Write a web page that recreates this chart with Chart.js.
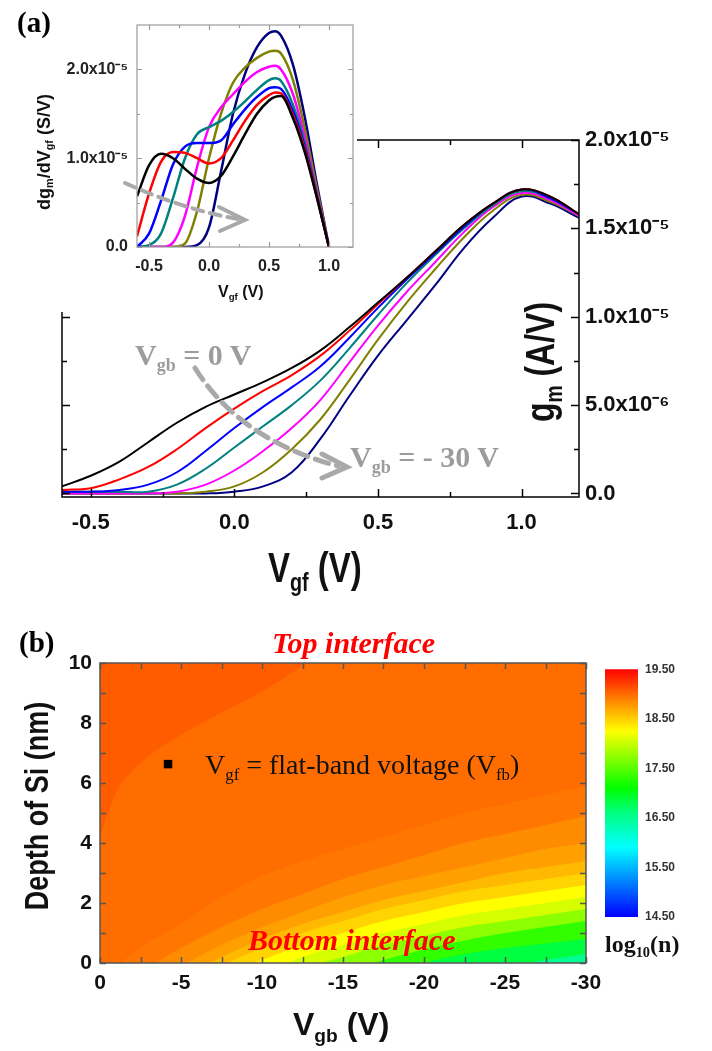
<!DOCTYPE html>
<html>
<head>
<meta charset="utf-8">
<script src="https://cdn.jsdelivr.net/npm/chart.js@4.4.0/dist/chart.umd.min.js"></script>
<style>
body { margin: 0; background: #fff; }
#page { position: relative; width: 712px; height: 1051px; overflow: hidden; background: #fff; }
canvas { position: absolute; }
.t { position: absolute; white-space: nowrap; }
.sans { font-family: "Liberation Sans", Arial, sans-serif; font-weight: bold; color: #111; }
.serif { font-family: "Liberation Serif", "Times New Roman", serif; }
.t sub { font-size: 0.6em; vertical-align: -0.35em; line-height: 0; }
.grey { color: #9c9c9c; font-weight: bold; }
.red { color: #ff0000; font-weight: bold; font-style: italic; }
</style>
</head>
<body>
<div id="page">
  <canvas id="mainChart" width="712" height="600" style="left:0;top:0"></canvas>
  <canvas id="insetChart" width="357" height="312" style="left:0;top:0"></canvas>
  <canvas id="heatChart" width="712" height="451" style="left:0;top:600px"></canvas>
  <canvas id="barChart" width="117" height="280" style="left:595px;top:655px"></canvas>

  <svg width="712" height="1051" style="position:absolute;left:0;top:0;pointer-events:none">
    <g fill="none" stroke="#a9a9a9" stroke-linecap="round">
      <path d="M125,183 Q185,210 238,219" stroke-width="4" stroke-dasharray="11 7"/>
      <path d="M219,207 L245,220 L220,231" stroke-width="4"/>
      <path d="M195,368 Q240,440 338,466" stroke-width="5" stroke-dasharray="14 8"/>
      <path d="M322,454 L347,467 L322,478" stroke-width="5"/>
    </g>
  </svg>

  <div class="t serif" style="left:17px;top:8px;font-size:29px;line-height:29px;font-weight:bold">(a)</div>
  <div class="t sans" style="left:44px;top:152px;font-size:18px;transform:translate(-50%,-50%) rotate(-90deg)">dg<sub>m</sub>/dV<sub>gf</sub> (S/V)</div>
  <div class="t sans" style="left:218px;top:284px;font-size:16px;line-height:16px">V<sub>gf</sub> (V)</div>
  <div class="t sans" style="left:268px;top:546px;font-size:33px;line-height:33px;transform:scaleY(1.3);transform-origin:0 0">V<sub>gf</sub> (V)</div>
  <div class="t sans" style="left:540px;top:362px;font-size:32px;line-height:32px;transform:translate(-50%,-50%) rotate(-90deg) scaleY(1.25)">g<sub>m</sub> (A/V)</div>
  <div class="t serif grey" style="left:135px;top:340px;font-size:30px;line-height:30px">V<sub>gb</sub> = 0 V</div>
  <div class="t serif grey" style="left:350px;top:442px;font-size:30px;line-height:30px">V<sub>gb</sub> = - 30 V</div>

  <div class="t serif" style="left:19px;top:628px;font-size:29px;line-height:29px;font-weight:bold">(b)</div>
  <div class="t serif red" style="left:272px;top:628px;font-size:30px;line-height:30px">Top interface</div>
  <div class="t serif red" style="left:248px;top:925px;font-size:30px;line-height:30px">Bottom interface</div>
  <div class="t serif" style="left:205px;top:751px;font-size:28px;line-height:28px;color:#111">V<sub>gf</sub> = flat-band voltage (V<sub>fb</sub>)</div>
  <div class="t sans" style="left:38px;top:806px;font-size:27px;line-height:27px;transform:translate(-50%,-50%) rotate(-90deg) scaleY(1.2)">Depth of Si (nm)</div>
  <div class="t sans" style="left:293px;top:1008px;font-size:32px;line-height:32px">V<sub>gb</sub> (V)</div>
  <div class="t serif" style="left:605px;top:932px;font-size:24px;line-height:24px;font-weight:bold;color:#111">log<sub>10</sub>(n)</div>
</div>

<script>
// ---- (a) main: g_m vs V_gf, values in units of 1e-5 A/V ----
const vgfMain = [-0.6, -0.5, -0.4, -0.3, -0.2, -0.1, 0, 0.1, 0.2, 0.3, 0.4, 0.5, 0.6, 0.7, 0.8, 0.9, 1.0, 1.1, 1.2];
const gmVgb0  = [0.04, 0.10, 0.18, 0.29, 0.40, 0.49, 0.56, 0.63, 0.71, 0.81, 0.94, 1.08, 1.22, 1.37, 1.52, 1.64, 1.72, 1.68, 1.58];
const gmVgb5  = [0.02, 0.03, 0.08, 0.15, 0.25, 0.37, 0.48, 0.58, 0.67, 0.78, 0.92, 1.07, 1.22, 1.37, 1.52, 1.64, 1.72, 1.68, 1.58];
const gmVgb10 = [0.01, 0.01, 0.02, 0.05, 0.12, 0.24, 0.37, 0.49, 0.60, 0.72, 0.88, 1.05, 1.21, 1.36, 1.51, 1.64, 1.72, 1.67, 1.58];
const gmVgb15 = [0.01, 0.01, 0.01, 0.01, 0.05, 0.14, 0.26, 0.38, 0.50, 0.64, 0.82, 1.01, 1.19, 1.35, 1.50, 1.63, 1.71, 1.67, 1.58];
const gmVgb20 = [0, 0, 0, 0, 0.01, 0.05, 0.13, 0.24, 0.37, 0.53, 0.74, 0.95, 1.14, 1.31, 1.48, 1.62, 1.70, 1.66, 1.57];
const gmVgb25 = [0, 0, 0, 0, 0, 0.01, 0.04, 0.12, 0.25, 0.42, 0.64, 0.87, 1.08, 1.27, 1.45, 1.60, 1.69, 1.65, 1.57];
const gmVgb30 = [0, 0, 0, 0, 0, 0, 0.01, 0.04, 0.12, 0.31, 0.55, 0.78, 0.98, 1.18, 1.39, 1.56, 1.68, 1.64, 1.56];

// ---- (a) inset: dgm/dVgf, units of 1e-5 S/V ----
const vgfInset = [-0.6, -0.5, -0.4, -0.3, -0.2, -0.1, 0, 0.1, 0.2, 0.3, 0.4, 0.5, 0.55, 0.6, 0.7, 0.8, 0.9, 1.0];
const dgVgb0  = [0.57, 0.92, 1.05, 1.00, 0.88, 0.77, 0.72, 0.80, 1.02, 1.27, 1.50, 1.65, 1.69, 1.70, 1.45, 1.06, 0.55, 0];
const dgVgb5  = [0.12, 0.60, 0.96, 1.07, 1.06, 1.00, 0.94, 1.00, 1.20, 1.42, 1.60, 1.71, 1.74, 1.73, 1.48, 1.09, 0.56, 0];
const dgVgb10 = [0, 0.15, 0.52, 0.93, 1.13, 1.17, 1.17, 1.20, 1.38, 1.55, 1.69, 1.79, 1.80, 1.78, 1.53, 1.12, 0.57, 0];
const dgVgb15 = [0, 0.02, 0.15, 0.55, 1.00, 1.27, 1.35, 1.42, 1.52, 1.64, 1.77, 1.88, 1.90, 1.87, 1.60, 1.16, 0.58, 0];
const dgVgb20 = [0, 0, 0, 0.05, 0.35, 0.90, 1.35, 1.57, 1.72, 1.86, 1.97, 2.03, 2.04, 2.00, 1.72, 1.22, 0.60, 0];
const dgVgb25 = [0, 0, 0, 0, 0.04, 0.40, 1.00, 1.50, 1.85, 2.02, 2.13, 2.20, 2.21, 2.18, 1.88, 1.32, 0.65, 0];
const dgVgb30 = [0, 0, 0, 0, 0, 0.02, 0.22, 0.85, 1.50, 1.95, 2.25, 2.41, 2.43, 2.38, 2.05, 1.45, 0.70, 0];

const curveLabels = ['Vgb = 0 V', 'Vgb = -5 V', 'Vgb = -10 V', 'Vgb = -15 V', 'Vgb = -20 V', 'Vgb = -25 V', 'Vgb = -30 V'];
const curveColors = ['#000000', '#ff0000', '#0000ff', '#008080', '#ff00ff', '#808000', '#000080'];

const mainXTicks = [-0.5, -0.25, 0, 0.25, 0.5, 0.75, 1.0];
const mainYTicks = [0, 0.25, 0.5, 0.75, 1.0, 1.25, 1.5, 1.75, 2.0];
const insetXTicks = [-0.5, -0.25, 0, 0.25, 0.5, 0.75, 1.0];
const insetYTicks = [0, 0.5, 1.0, 1.5, 2.0];

// ---- (b) electron density contour bands, log10(n) ----
const vgb = [0, -2.5, -5, -7.5, -10, -12.5, -15, -17.5, -20, -22.5, -25, -27.5, -30];
// upper-left region (highest density) lies above this line
const vgbTop = [0, -0.5, -1, -2, -3, -5, -7.5, -10, -12.5, -14];
const depthTop = [4.2, 5.0, 5.7, 6.4, 6.9, 7.6, 8.35, 9.05, 9.9, 10.4];
const levelTop = 19.07;
const levelBase = 18.99;
// each band lies below its boundary depth (nm)
const bandLevels = [18.94, 18.84, 18.74, 18.61, 18.47, 18.25, 18.06, 17.73, 17.32, 16.85, 16.51];
const bandDepths = [
  [-0.6, 0.5, 1.3, 2.2, 2.9, 3.4, 3.8, 4.2, 4.6, 5.0, 5.3, 5.6, 5.9],
  [-1.2, -0.3, 0.5, 1.2, 1.8, 2.3, 2.8, 3.2, 3.6, 4.0, 4.3, 4.6, 4.9],
  [-1.6, -0.8, -0.1, 0.6, 1.2, 1.7, 2.2, 2.6, 2.9, 3.2, 3.5, 3.8, 4.0],
  [-2.0, -1.2, -0.5, 0.2, 0.8, 1.3, 1.7, 2.1, 2.4, 2.7, 3.0, 3.2, 3.4],
  [-2.4, -1.6, -0.9, -0.1, 0.5, 1.0, 1.4, 1.8, 2.1, 2.4, 2.6, 2.8, 3.0],
  [-2.8, -2.0, -1.3, -0.5, 0.1, 0.6, 1.0, 1.4, 1.7, 2.0, 2.2, 2.4, 2.6],
  [-3.2, -2.4, -1.7, -1.0, -0.4, 0.2, 0.6, 1.0, 1.3, 1.6, 1.8, 2.0, 2.2],
  [-3.6, -2.8, -2.1, -1.4, -0.8, -0.2, 0.2, 0.6, 0.9, 1.2, 1.4, 1.6, 1.8],
  [-4.0, -3.2, -2.5, -1.9, -1.3, -0.8, -0.3, 0.1, 0.45, 0.75, 1.0, 1.2, 1.4],
  [-4.4, -3.7, -3.0, -2.4, -1.8, -1.3, -0.9, -0.5, 0.0, 0.3, 0.5, 0.65, 0.8],
  [-4.8, -4.2, -3.6, -3.0, -2.5, -2.0, -1.6, -1.2, -0.8, -0.5, -0.15, 0.1, 0.3]
];
const flatBand = { vgb: -4.2, depth: 6.63 };
const heatXTicks = [0, -2.5, -5, -7.5, -10, -12.5, -15, -17.5, -20, -22.5, -25, -27.5, -30];
const heatYTicks = [0, 1, 2, 3, 4, 5, 6, 7, 8, 9, 10];

// colour bar
const cbarValues = [14.5, 15.9, 16.6, 17.1, 18.25, 18.9, 19.5];
const cbarRGB = [[0, 0, 255], [0, 255, 255], [0, 255, 128], [0, 255, 0], [255, 255, 0], [255, 128, 0], [255, 0, 0]];
const cbarTicks = [14.5, 15.5, 16.5, 17.5, 18.5, 19.5];

function cmap(v) {
  for (let i = 1; i < cbarValues.length; i++) {
    if (v <= cbarValues[i]) {
      const f = (v - cbarValues[i - 1]) / (cbarValues[i] - cbarValues[i - 1]);
      const a = cbarRGB[i - 1], b = cbarRGB[i];
      return 'rgb(' + a.map((c, k) => Math.round(c + (b[k] - c) * f)).join(',') + ')';
    }
  }
  return 'rgb(255,0,0)';
}

const isMajor = (v, step) => Math.abs(v / step - Math.round(v / step)) < 1e-6;

function sciLabel(v) {
  if (v === 0) return '0.0';
  if (v < 1) return (v * 10).toFixed(1) + 'x10\u207B\u2076';
  return v.toFixed(1) + 'x10\u207B\u2075';
}

// tick marks drawn inside the frame on all four sides
const frameTicks = {
  id: 'frameTicks',
  afterDatasetsDraw(chart, args, o) {
    const { ctx, chartArea: a } = chart;
    const x = chart.scales.x, y = chart.scales.y;
    ctx.save();
    ctx.strokeStyle = o.color;
    ctx.lineWidth = o.width;
    ctx.beginPath();
    x.ticks.forEach(t => {
      const p = Math.round(x.getPixelForValue(t.value)) + 0.5;
      const len = isMajor(t.value, o.xMajor) ? o.major : o.minor;
      ctx.moveTo(p, a.bottom); ctx.lineTo(p, a.bottom - len);
      ctx.moveTo(p, a.top); ctx.lineTo(p, a.top + len);
    });
    y.ticks.forEach(t => {
      const p = Math.round(y.getPixelForValue(t.value)) + 0.5;
      const len = isMajor(t.value, o.yMajor) ? o.major : o.minor;
      ctx.moveTo(a.left, p); ctx.lineTo(a.left + len, p);
      ctx.moveTo(a.right, p); ctx.lineTo(a.right - len, p);
    });
    ctx.stroke();
    ctx.strokeRect(a.left, a.top, a.right - a.left, a.bottom - a.top);
    ctx.restore();
  }
};

const whiteBg = {
  id: 'whiteBg',
  beforeDraw(chart) {
    const ctx = chart.ctx;
    ctx.save();
    ctx.fillStyle = '#fff';
    ctx.fillRect(0, 0, chart.width, chart.height);
    ctx.restore();
  }
};

const areaBg = {
  id: 'areaBg',
  beforeDatasetsDraw(chart, args, o) {
    const { ctx, chartArea: a } = chart;
    ctx.save();
    ctx.fillStyle = o.color;
    ctx.fillRect(a.left, a.top, a.right - a.left, a.bottom - a.top);
    ctx.restore();
  }
};

Chart.defaults.font.family = '"Liberation Sans", Arial, sans-serif';
Chart.defaults.font.weight = 'bold';
Chart.defaults.color = '#111';

function lineSets(xs, series, width, smooth) {
  return series.map((s, i) => ({
    label: curveLabels[i],
    data: xs.map((x, k) => ({ x: x, y: s[k] })),
    borderColor: curveColors[i],
    borderWidth: width,
    pointRadius: 0,
    fill: false,
    tension: 0.4,
    cubicInterpolationMode: smooth
  }));
}

document.addEventListener('DOMContentLoaded', () => {
  // main g_m chart
  new Chart(document.getElementById('mainChart'), {
    type: 'line',
    data: { datasets: lineSets(vgfMain, [gmVgb0, gmVgb5, gmVgb10, gmVgb15, gmVgb20, gmVgb25, gmVgb30], 2, 'default') },
    options: {
      responsive: false,
      animation: false,
      layout: { padding: { left: 62, top: 140, right: 0, bottom: 0 } },
      plugins: {
        legend: { display: false },
        tooltip: { enabled: false },
        frameTicks: { color: '#000', width: 1.5, major: 8, minor: 5, xMajor: 0.5, yMajor: 0.5 }
      },
      scales: {
        x: {
          type: 'linear', min: -0.6, max: 1.2,
          afterBuildTicks: s => { s.ticks = mainXTicks.map(v => ({ value: v })); },
          afterFit: s => { s.height = 103; },
          grid: { display: false, drawTicks: false },
          border: { display: false },
          ticks: { autoSkip: false, maxRotation: 0, padding: 13, font: { size: 22 },
                   callback: v => isMajor(v, 0.5) ? v.toFixed(1) : '' }
        },
        y: {
          type: 'linear', position: 'right', min: -0.02, max: 2.0,
          afterBuildTicks: s => { s.ticks = mainYTicks.map(v => ({ value: v })); },
          afterFit: s => { s.width = 133; },
          grid: { display: false, drawTicks: false },
          border: { display: false },
          ticks: { autoSkip: false, padding: 6, font: { size: 22 },
                   callback: v => isMajor(v, 0.5) ? sciLabel(v) : '' }
        }
      }
    },
    plugins: [frameTicks]
  });

  // inset dgm/dVgf chart
  new Chart(document.getElementById('insetChart'), {
    type: 'line',
    data: { datasets: lineSets(vgfInset, [dgVgb0, dgVgb5, dgVgb10, dgVgb15, dgVgb20, dgVgb25, dgVgb30], 2.5, 'monotone') },
    options: {
      responsive: false,
      animation: false,
      layout: { padding: { left: 0, top: 25, right: 4, bottom: 0 } },
      plugins: {
        legend: { display: false },
        tooltip: { enabled: false },
        frameTicks: { color: '#9a9a9a', width: 1.2, major: 5, minor: 3, xMajor: 0.5, yMajor: 1 }
      },
      scales: {
        x: {
          type: 'linear', min: -0.6, max: 1.2,
          afterBuildTicks: s => { s.ticks = insetXTicks.map(v => ({ value: v })); },
          afterFit: s => { s.height = 65; },
          grid: { display: false, drawTicks: false },
          border: { display: false },
          ticks: { autoSkip: false, maxRotation: 0, padding: 10, color: '#222', font: { size: 16 },
                   callback: v => isMajor(v, 0.5) ? v.toFixed(1) : '' }
        },
        y: {
          type: 'linear', min: 0, max: 2.5,
          afterBuildTicks: s => { s.ticks = insetYTicks.map(v => ({ value: v })); },
          afterFit: s => { s.width = 137; },
          grid: { display: false, drawTicks: false },
          border: { display: false },
          ticks: { autoSkip: false, padding: 9, color: '#222', font: { size: 16 },
                   callback: v => isMajor(v, 1) ? sciLabel(v) : '' }
        }
      }
    },
    plugins: [whiteBg, frameTicks]
  });

  // (b) contour map built from filled boundary lines
  const heatSets = [{
    label: 'flat-band voltage',
    data: [{ x: flatBand.vgb, y: flatBand.depth }],
    showLine: false,
    pointStyle: 'rect',
    pointRadius: 6,
    backgroundColor: '#000',
    borderWidth: 0,
    fill: false
  }];
  for (let i = bandLevels.length - 1; i >= 0; i--) {
    heatSets.push({
      label: 'log n ' + bandLevels[i],
      data: vgb.map((x, k) => ({ x: x, y: bandDepths[i][k] })),
      fill: 'start',
      backgroundColor: cmap(bandLevels[i]),
      borderColor: 'transparent',
      borderWidth: 0,
      pointRadius: 0,
      cubicInterpolationMode: 'monotone'
    });
  }
  heatSets.push({
    label: 'log n ' + levelTop,
    data: vgbTop.map((x, k) => ({ x: x, y: depthTop[k] })),
    fill: 'end',
    backgroundColor: cmap(levelTop),
    borderColor: 'transparent',
    borderWidth: 0,
    pointRadius: 0,
    cubicInterpolationMode: 'monotone'
  });

  new Chart(document.getElementById('heatChart'), {
    type: 'line',
    data: { datasets: heatSets },
    options: {
      responsive: false,
      animation: false,
      layout: { padding: { left: 0, top: 63, right: 126, bottom: 0 } },
      plugins: {
        legend: { display: false },
        tooltip: { enabled: false },
        areaBg: { color: cmap(levelBase) },
        frameTicks: { color: '#555', width: 1.5, major: 6, minor: 6, xMajor: 5, yMajor: 2 }
      },
      scales: {
        x: {
          type: 'linear', min: -30, max: 0, reverse: true,
          afterBuildTicks: s => { s.ticks = heatXTicks.map(v => ({ value: v })); },
          afterFit: s => { s.height = 88; },
          grid: { display: false, drawTicks: false },
          border: { display: false },
          ticks: { autoSkip: false, maxRotation: 0, padding: 8, font: { size: 21 },
                   callback: v => isMajor(v, 5) ? String(v === 0 ? 0 : v) : '' }
        },
        y: {
          type: 'linear', min: 0, max: 10,
          afterBuildTicks: s => { s.ticks = heatYTicks.map(v => ({ value: v })); },
          afterFit: s => { s.width = 100; },
          grid: { display: false, drawTicks: false },
          border: { display: false },
          ticks: { autoSkip: false, padding: 8, font: { size: 21 },
                   callback: v => isMajor(v, 2) ? String(v) : '' }
        }
      }
    },
    plugins: [areaBg, frameTicks]
  });

  // colour bar
  new Chart(document.getElementById('barChart'), {
    type: 'bar',
    data: {
      labels: ['log10(n)'],
      datasets: [{
        data: [[cbarValues[0], cbarValues[cbarValues.length - 1]]],
        barPercentage: 1,
        categoryPercentage: 1,
        borderWidth: 0,
        backgroundColor: c => {
          const a = c.chart.chartArea;
          if (!a || !isFinite(a.top) || !isFinite(a.bottom)) return '#f80';
          const g = c.chart.ctx.createLinearGradient(0, a.bottom, 0, a.top);
          cbarValues.forEach((v, i) => g.addColorStop((v - 14.5) / 5, 'rgb(' + cbarRGB[i].join(',') + ')'));
          return g;
        }
      }]
    },
    options: {
      responsive: false,
      animation: false,
      layout: { padding: { left: 10, top: 13, right: 0, bottom: 18 } },
      plugins: { legend: { display: false }, tooltip: { enabled: false } },
      scales: {
        x: { display: false },
        y: {
          position: 'right', min: 14.5, max: 19.5,
          afterBuildTicks: s => { s.ticks = cbarTicks.map(v => ({ value: v })); },
          afterFit: s => { s.width = 74; },
          grid: { display: false, drawTicks: false },
          border: { display: false },
          ticks: { autoSkip: false, padding: 7, color: '#333', font: { size: 12 },
                   callback: v => v.toFixed(2) }
        }
      }
    }
  });
});
</script>
</body>
</html>
